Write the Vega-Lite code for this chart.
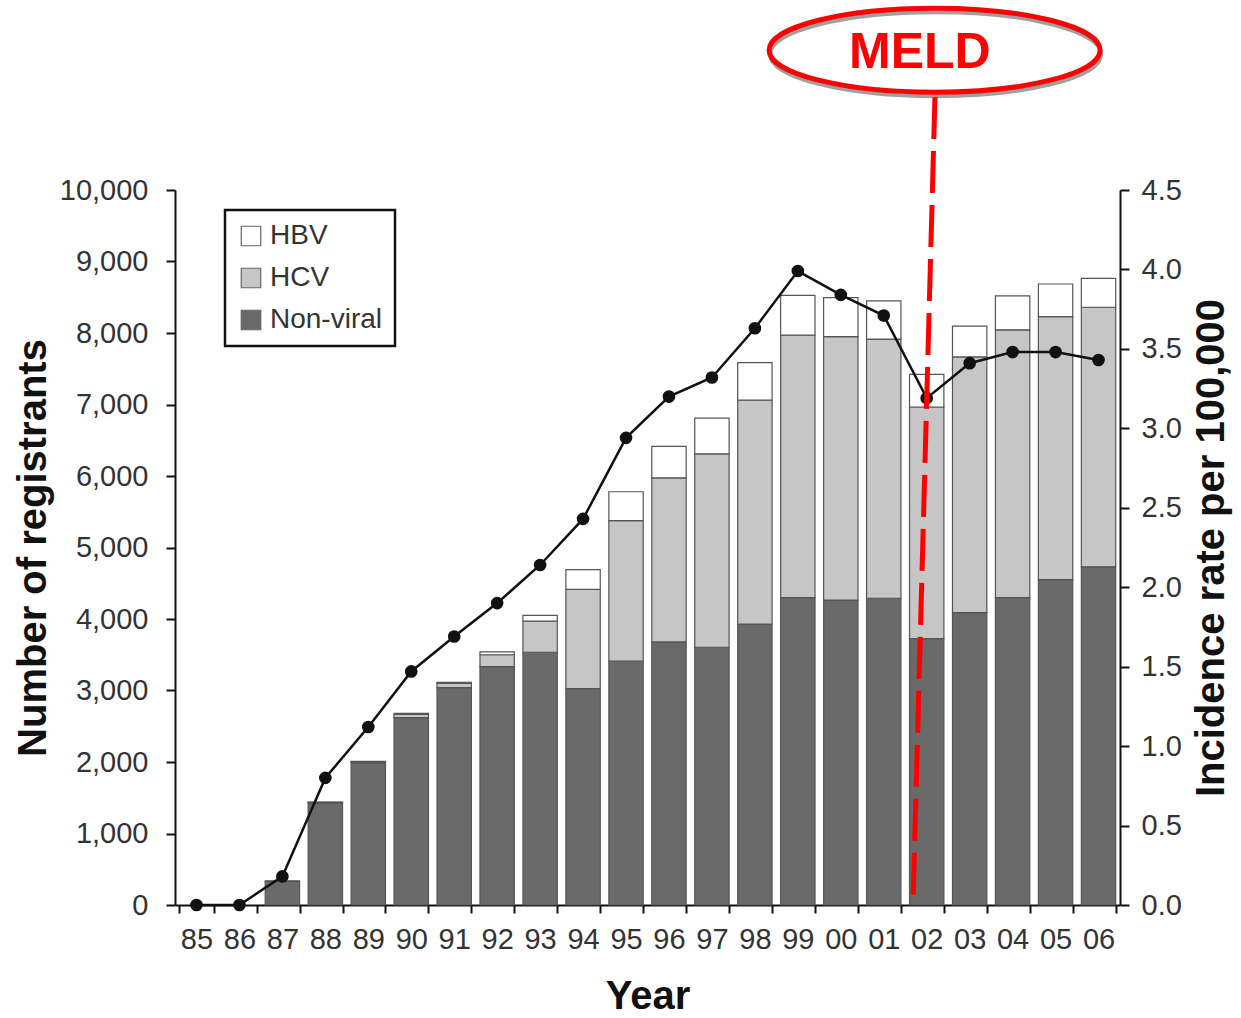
{
  "$schema": "https://vega.github.io/schema/vega-lite/v6.json",
  "width": 945,
  "height": 715,
  "autosize": "none",
  "padding": {"left": 175, "top": 190, "right": 121, "bottom": 113},
  "background": "white",
  "config": {
    "font": "Liberation Sans",
    "view": {"stroke": null},
    "axis": {
      "grid": false,
      "domainColor": "#111",
      "domainWidth": 2,
      "tickColor": "#111",
      "tickWidth": 2,
      "labelColor": "#333",
      "labelFontSize": 29,
      "labelFont": "Liberation Sans",
      "titleFont": "Liberation Sans",
      "titleFontSize": 40,
      "titleFontWeight": "bold",
      "titleColor": "#111"
    }
  },
  "datasets": {
    "bars": [
      {"year": "87", "type": "Non-viral", "count": 330}, {"year": "87", "type": "HCV", "count": 5}, {"year": "87", "type": "HBV", "count": 0},
      {"year": "88", "type": "Non-viral", "count": 1420}, {"year": "88", "type": "HCV", "count": 15}, {"year": "88", "type": "HBV", "count": 5},
      {"year": "89", "type": "Non-viral", "count": 1990}, {"year": "89", "type": "HCV", "count": 15}, {"year": "89", "type": "HBV", "count": 5},
      {"year": "90", "type": "Non-viral", "count": 2620}, {"year": "90", "type": "HCV", "count": 45}, {"year": "90", "type": "HBV", "count": 15},
      {"year": "91", "type": "Non-viral", "count": 3040}, {"year": "91", "type": "HCV", "count": 60}, {"year": "91", "type": "HBV", "count": 15},
      {"year": "92", "type": "Non-viral", "count": 3335}, {"year": "92", "type": "HCV", "count": 165}, {"year": "92", "type": "HBV", "count": 40},
      {"year": "93", "type": "Non-viral", "count": 3535}, {"year": "93", "type": "HCV", "count": 435}, {"year": "93", "type": "HBV", "count": 80},
      {"year": "94", "type": "Non-viral", "count": 3025}, {"year": "94", "type": "HCV", "count": 1390}, {"year": "94", "type": "HBV", "count": 275},
      {"year": "95", "type": "Non-viral", "count": 3410}, {"year": "95", "type": "HCV", "count": 1965}, {"year": "95", "type": "HBV", "count": 405},
      {"year": "96", "type": "Non-viral", "count": 3680}, {"year": "96", "type": "HCV", "count": 2295}, {"year": "96", "type": "HBV", "count": 440},
      {"year": "97", "type": "Non-viral", "count": 3605}, {"year": "97", "type": "HCV", "count": 2705}, {"year": "97", "type": "HBV", "count": 500},
      {"year": "98", "type": "Non-viral", "count": 3930}, {"year": "98", "type": "HCV", "count": 3130}, {"year": "98", "type": "HBV", "count": 525},
      {"year": "99", "type": "Non-viral", "count": 4300}, {"year": "99", "type": "HCV", "count": 3670}, {"year": "99", "type": "HBV", "count": 555},
      {"year": "00", "type": "Non-viral", "count": 4265}, {"year": "00", "type": "HCV", "count": 3685}, {"year": "00", "type": "HBV", "count": 545},
      {"year": "01", "type": "Non-viral", "count": 4290}, {"year": "01", "type": "HCV", "count": 3625}, {"year": "01", "type": "HBV", "count": 535},
      {"year": "02", "type": "Non-viral", "count": 3725}, {"year": "02", "type": "HCV", "count": 3240}, {"year": "02", "type": "HBV", "count": 455},
      {"year": "03", "type": "Non-viral", "count": 4090}, {"year": "03", "type": "HCV", "count": 3575}, {"year": "03", "type": "HBV", "count": 430},
      {"year": "04", "type": "Non-viral", "count": 4300}, {"year": "04", "type": "HCV", "count": 3745}, {"year": "04", "type": "HBV", "count": 475},
      {"year": "05", "type": "Non-viral", "count": 4550}, {"year": "05", "type": "HCV", "count": 3680}, {"year": "05", "type": "HBV", "count": 455},
      {"year": "06", "type": "Non-viral", "count": 4730}, {"year": "06", "type": "HCV", "count": 3630}, {"year": "06", "type": "HBV", "count": 405}
    ],
    "rate": [
      {"year": "85", "rate": 0}, {"year": "86", "rate": 0}, {"year": "87", "rate": 0.18}, {"year": "88", "rate": 0.8},
      {"year": "89", "rate": 1.12}, {"year": "90", "rate": 1.47}, {"year": "91", "rate": 1.69}, {"year": "92", "rate": 1.9},
      {"year": "93", "rate": 2.14}, {"year": "94", "rate": 2.43}, {"year": "95", "rate": 2.94}, {"year": "96", "rate": 3.2},
      {"year": "97", "rate": 3.32}, {"year": "98", "rate": 3.63}, {"year": "99", "rate": 3.99}, {"year": "00", "rate": 3.84},
      {"year": "01", "rate": 3.71}, {"year": "02", "rate": 3.19}, {"year": "03", "rate": 3.41}, {"year": "04", "rate": 3.48},
      {"year": "05", "rate": 3.48}, {"year": "06", "rate": 3.43}
    ]
  },
  "layer": [
    {
      "data": {"name": "bars"},
      "mark": {"type": "bar", "stroke": "#555", "strokeWidth": 1.2},
      "encoding": {
        "x": {
          "field": "year", "type": "ordinal",
          "scale": {"domain": ["85","86","87","88","89","90","91","92","93","94","95","96","97","98","99","00","01","02","03","04","05","06"], "paddingInner": 0.2, "paddingOuter": 0.1},
          "axis": {"title": "Year", "labelAngle": 0, "tickBand": "extent", "tickSize": 8, "labelPadding": 12, "titlePadding": 22}
        },
        "y": {
          "field": "count", "type": "quantitative", "stack": "zero",
          "scale": {"domain": [0, 10000], "nice": false},
          "axis": {"title": "Number of registrants", "values": [0,1000,2000,3000,4000,5000,6000,7000,8000,9000,10000], "format": ",.0f", "tickSize": 9, "labelPadding": 18, "titlePadding": 6}
        },
        "color": {
          "field": "type", "type": "nominal",
          "scale": {"domain": ["HBV", "HCV", "Non-viral"], "range": ["#ffffff", "#c6c6c6", "#6a6a6a"]},
          "legend": {"orient": "none", "legendX": 50, "legendY": 20, "title": null, "strokeColor": "#111", "fillColor": "white", "padding": 12, "labelFontSize": 28, "labelColor": "#333", "symbolType": "square", "symbolSize": 380, "symbolStrokeColor": "#666", "symbolStrokeWidth": 1.2, "rowPadding": 14, "labelOffset": 5,
            "encode": {"legend": {"update": {"strokeWidth": {"value": 2.5}}}}}
        },
        "order": {"field": "type", "sort": "descending"}
      }
    },
    {
      "layer": [
        {
          "data": {"name": "rate"},
          "mark": {"type": "line", "color": "#111", "strokeWidth": 2.5, "point": {"filled": true, "size": 160, "color": "#111"}},
          "encoding": {
            "x": {"field": "year", "type": "ordinal"},
            "y": {
              "field": "rate", "type": "quantitative",
              "scale": {"domain": [0, 4.5], "nice": false},
              "axis": {"orient": "right", "title": "Incidence rate per 100,000", "values": [0,0.5,1,1.5,2,2.5,3,3.5,4,4.5], "format": ".1f", "tickSize": 9, "labelPadding": 12, "titleAngle": 270, "titleBaseline": "top", "titlePadding": 10}
            }
          }
        },
        {
          "data": {"values": [{}]},
          "mark": {"type": "point", "shape": "M -1 0 A 1 0.254 0 1 1 1 0 A 1 0.254 0 1 1 -1 0 Z", "size": 109561, "filled": false, "stroke": "#888888", "strokeWidth": 4, "yOffset": 4, "xOffset": 1, "opacity": 0.8},
          "encoding": {
            "x": {"datum": "02", "type": "ordinal", "bandPosition": 0.73},
            "y": {"datum": 5.38, "type": "quantitative"}
          }
        },
        {
          "data": {"values": [{}]},
          "mark": {"type": "point", "shape": "M -1 0 A 1 0.254 0 1 1 1 0 A 1 0.254 0 1 1 -1 0 Z", "size": 109561, "filled": false, "stroke": "#ff0000", "strokeWidth": 5, "opacity": 1},
          "encoding": {
            "x": {"datum": "02", "type": "ordinal", "bandPosition": 0.73},
            "y": {"datum": 5.38, "type": "quantitative"}
          }
        },
        {
          "data": {"values": [{}]},
          "mark": {"type": "text", "text": "MELD", "font": "Liberation Sans", "fontSize": 50, "fontWeight": "bold", "color": "#ff0000", "align": "center", "baseline": "middle"},
          "encoding": {
            "x": {"datum": "02", "type": "ordinal", "bandPosition": 0.3},
            "y": {"datum": 5.36, "type": "quantitative"}
          }
        },
        {
          "data": {"values": [{}]},
          "mark": {"type": "rule", "color": "#ff0000", "strokeWidth": 5, "strokeDash": [42, 12]},
          "encoding": {
            "x": {"datum": "02", "type": "ordinal", "bandPosition": 0.74},
            "y": {"datum": 5.085, "type": "quantitative"},
            "x2": {"datum": "02", "bandPosition": 0.1},
            "y2": {"datum": 0}
          }
        }
      ]
    }
  ],
  "resolve": {"scale": {"y": "independent"}}
}
